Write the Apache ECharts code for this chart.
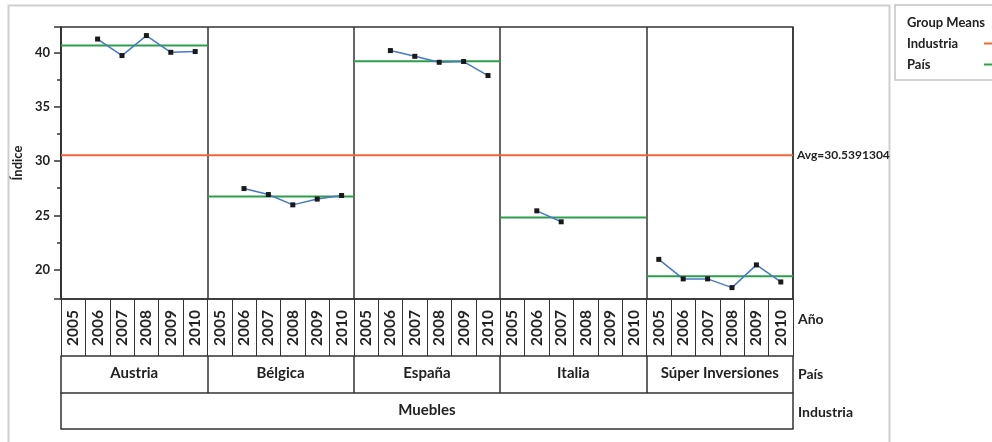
<!DOCTYPE html>
<html>
<head>
<meta charset="utf-8">
<script src="https://cdn.jsdelivr.net/npm/echarts@6/dist/echarts.min.js"></script>
<style>
html,body{margin:0;padding:0;background:#fff;}
#chart{width:992px;height:442px;}
</style>
</head>
<body>
<div id="chart"></div>
<script>
// ---- data ----
const years = ['2005', '2006', '2007', '2008', '2009', '2010'];
const countries = ['Austria', 'Bélgica', 'España', 'Italia', 'Súper Inversiones'];
const industries = ['Muebles'];
const austria  = [null, 41.24, 39.72, 41.56, 40.02, 40.09];
const belgica  = [null, 27.47, 26.92, 25.97, 26.50, 26.83];
const espana   = [null, 40.18, 39.65, 39.10, 39.17, 37.88];
const italia   = [null, 25.42, 24.41, null, null, null];
const superInv = [20.95, 19.15, 19.15, 18.35, 20.44, 18.87];
const countryMeans = [40.64, 26.73, 39.20, 24.81, 19.39];
const industryAvg = 30.5391304;
const yLabelValues = [20, 25, 30, 35, 40];
const yMinorValues = [22.5, 27.5, 32.5, 37.5];
const yMin = 17.3, yMax = 42.35;

// ---- build options ----
const countrySeries = [austria, belgica, espana, italia, superInv];
const xCats = [];
countries.forEach(c => years.forEach(y => xCats.push(c + '|' + y)));
const allValues = [].concat(...countrySeries);
const nCells = countries.length * years.length;

const FONT = 'Lato';
const dark = '#333';
const txt = '#222';

const meanSeries = countryMeans.map((m, i) => ({
  name: 'País', type: 'line', xAxisIndex: 3, yAxisIndex: 0,
  data: [[i * years.length, m], [(i + 1) * years.length, m]],
  symbol: 'none', lineStyle: {color: '#2e9e4c', width: 2}, itemStyle: {color: '#2e9e4c'},
  silent: true, z: 3
}));

const option = {
  animation: false,
  backgroundColor: '#fff',
  textStyle: {fontFamily: FONT},
  graphic: [{
    type: 'rect', shape: {x: 8.5, y: 5.5, width: 881, height: 470},
    style: {fill: 'none', stroke: '#cfcfcf', lineWidth: 2}, silent: true, z: -1
  }],
  legend: {
    orient: 'vertical', left: 895, top: 5, align: 'right',
    padding: [11, 20, 9, 12], itemGap: 8,
    itemWidth: 25, itemHeight: 2,
    borderColor: '#c4c4c4', borderWidth: 1.5,
    formatter: name => '{t|' + name + '}',
    textStyle: {
      fontFamily: FONT, fontSize: 13, fontWeight: 'bold', color: txt,
      rich: {t: {width: 72, align: 'left', fontFamily: FONT, fontSize: 13, fontWeight: 'bold', color: txt}}
    },
    data: [
      {name: 'Group Means', icon: 'none'},
      {name: 'Industria', icon: 'rect'},
      {name: 'País', icon: 'rect'}
    ],
    selectedMode: false
  },
  grid: {left: 61, top: 27, right: 199, bottom: 143, show: true, borderColor: dark, borderWidth: 1.5, backgroundColor: 'transparent'},
  xAxis: [
    {
      type: 'category', data: xCats, position: 'bottom', boundaryGap: true,
      name: 'Año', nameLocation: 'end', nameGap: 5,
      nameTextStyle: {fontFamily: FONT, fontSize: 14, fontWeight: 'bold', color: txt, verticalAlign: 'top', align: 'left', padding: [13, 0, 0, 0]},
      axisLine: {show: true, lineStyle: {color: dark, width: 1.5}},
      axisTick: {show: true, interval: 0, length: 57, lineStyle: {color: dark, width: 1}},
      axisLabel: {interval: 0, rotate: 90, margin: 11, fontFamily: FONT, fontSize: 15.5, fontWeight: 'bold', color: txt,
        formatter: v => v.split('|')[1]},
      splitLine: {show: false}
    },
    {
      type: 'category', data: countries, position: 'bottom', offset: 57, boundaryGap: true,
      name: 'País', nameLocation: 'end', nameGap: 5,
      nameTextStyle: {fontFamily: FONT, fontSize: 14, fontWeight: 'bold', color: txt, verticalAlign: 'top', align: 'left', padding: [11, 0, 0, 0]},
      axisLine: {show: true, lineStyle: {color: dark, width: 1.5}},
      axisTick: {show: true, interval: 0, length: 37, lineStyle: {color: dark, width: 1.5}},
      axisLabel: {interval: 0, margin: 10, fontFamily: FONT, fontSize: 15, fontWeight: 'bold', color: txt, hideOverlap: false},
      splitLine: {show: true, interval: 0, lineStyle: {color: dark, width: 1.5}}
    },
    {
      type: 'category', data: industries, position: 'bottom', offset: 94, boundaryGap: true,
      name: 'Industria', nameLocation: 'end', nameGap: 5,
      nameTextStyle: {fontFamily: FONT, fontSize: 14, fontWeight: 'bold', color: txt, verticalAlign: 'top', align: 'left', padding: [12, 0, 0, 0]},
      axisLine: {show: true, lineStyle: {color: dark, width: 1.5}},
      axisTick: {show: true, interval: 0, length: 36, lineStyle: {color: dark, width: 1.5}},
      axisLabel: {interval: 0, margin: 10, fontFamily: FONT, fontSize: 15, fontWeight: 'bold', color: txt},
      splitLine: {show: false}
    },
    {
      type: 'value', min: 0, max: nCells, position: 'bottom', offset: 130,
      axisLine: {show: true, onZero: false, lineStyle: {color: dark, width: 1.5}},
      axisTick: {show: false}, axisLabel: {show: false}, splitLine: {show: false}
    }
  ],
  yAxis: [
    {
      type: 'value', min: yMin, max: yMax, position: 'left',
      name: 'Índice', nameLocation: 'middle', nameGap: 29,
      nameTextStyle: {fontFamily: FONT, fontSize: 13, fontWeight: 'bold', color: txt},
      axisLine: {show: true, lineStyle: {color: dark, width: 1.5}},
      axisTick: {show: true, length: 7, customValues: [yMin].concat(yLabelValues, [yMax]), lineStyle: {color: dark, width: 1.5}},
      axisLabel: {customValues: yLabelValues, margin: 11, fontFamily: FONT, fontSize: 13, fontWeight: 'bold', color: txt},
      splitLine: {show: false}
    },
    {
      type: 'value', min: yMin, max: yMax, position: 'left', offset: 0,
      axisLine: {show: false},
      axisTick: {show: true, length: 4, customValues: yMinorValues, lineStyle: {color: dark, width: 1.5}},
      axisLabel: {show: false},
      splitLine: {show: false}
    }
  ],
  series: [
    {name: 'Group Means', type: 'line', data: [], symbol: 'none', itemStyle: {color: 'transparent'}},
    {
      name: 'Industria', type: 'line', xAxisIndex: 3, yAxisIndex: 0,
      data: [[0, industryAvg], [nCells, industryAvg]],
      symbol: 'none', lineStyle: {color: '#f0643a', width: 2}, itemStyle: {color: '#f0643a'},
      endLabel: {show: true, distance: 4, formatter: 'Avg=' + industryAvg, fontFamily: FONT, fontSize: 12, fontWeight: 'bold', color: txt},
      silent: true, z: 3
    },
    ...meanSeries,
    {
      name: 'Índice', type: 'line', xAxisIndex: 0, yAxisIndex: 0,
      data: allValues, connectNulls: false,
      symbol: 'rect', symbolSize: 5, showSymbol: true,
      lineStyle: {color: '#4878c8', width: 1.5},
      itemStyle: {color: '#1a1a1a'}, z: 4
    }
  ]
};

const chart = echarts.init(document.getElementById('chart'), null, {renderer: 'canvas'});
chart.setOption(option);
</script>
</body>
</html>
